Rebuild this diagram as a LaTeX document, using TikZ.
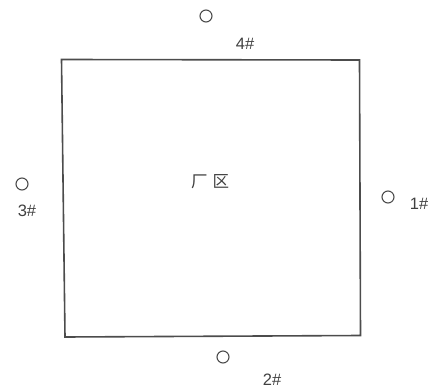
\documentclass[tikz,border=0pt]{standalone}
\usepackage{fontspec}
\setmainfont{Liberation Sans}
\newfontfamily\cjk{Noto Sans CJK SC}[Scale=1]
\begin{document}
\begin{tikzpicture}[x=1pt,y=-1pt,
  wall/.style={draw=black!70, line width=1.6pt, line join=miter},
  well/.style={circle, draw=black!70, line width=1.1pt, minimum size=12pt, inner sep=0pt},
  lbl/.style={text=black!75, font=\fontsize{16.5}{16.5}\selectfont, inner sep=0pt}]
\useasboundingbox (0,0) rectangle (428,390);
\coordinate (tl) at (61.5,59.5);
\coordinate (tr) at (359.5,60);
\coordinate (br) at (360.5,335.5);
\coordinate (bl) at (65,337);
\draw[wall] (tl) -- (tr) -- (br) -- (bl) -- cycle;
\node[well] (w4) at (206,16) {};
\node[lbl] (l4) at (245,44) {4\#};
\node[well] (w3) at (22,184) {};
\node[lbl] (l3) at (27,211) {3\#};
\node[well] (w1) at (388,197) {};
\node[lbl] (l1) at (419,204) {1\#};
\node[well] (w2) at (223,357) {};
\node[lbl] (l2) at (272,380) {2\#};
\node[text=black!75, inner sep=0pt, font=\cjk\fontsize{16.5}{16.5}\selectfont] (area) at (210,182) {厂\hspace{5pt}区};
\end{tikzpicture}
\end{document}
